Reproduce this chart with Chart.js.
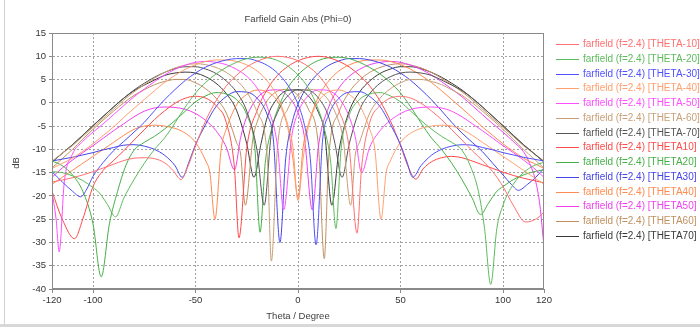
<!DOCTYPE html>
<html lang="en">
<head>
<meta charset="UTF-8">
<title>Farfield Gain Abs (Phi=0)</title>
<script src="https://cdn.jsdelivr.net/npm/chart.js"></script>
<style>
  html, body { margin: 0; padding: 0; background: #fff; }
  #wrap { position: relative; width: 700px; height: 327px; }
</style>
</head>
<body>
<div id="wrap"><canvas id="gain" width="700" height="327"></canvas></div>
<script>
// [theta (deg), gain (dB)], one array per curve
const thetaM10 = [[-120,-17],[-115,-16.6],[-110,-16.1],[-105,-15.5],[-100,-14.8],[-95,-14],[-90,-13.2],[-85,-12.4],[-80,-11.9],[-75,-11.8],[-70,-12],[-65,-12.9],[-61,-14.5],[-57,-16.5],[-54,-14],[-50,-9.3],[-45,-3.8],[-40,0.4],[-35,3.6],[-30,5.9],[-25,7.7],[-20,8.9],[-15,9.7],[-10,10],[-5,9.75],[0,9.05],[5,7.8],[10,5.9],[15,2.9],[20,-1.7],[25,-9.8],[28.8,-28],[31,-14],[35,-4.2],[40,-0.6],[45,1],[50,1.4],[55,1],[60,-0.1],[65,-1.7],[70,-3.6],[75,-5.8],[80,-8],[85,-10.3],[90,-12.4],[95,-14.8],[100,-18],[105,-22],[111,-25.6],[116,-25],[120,-23.5]];
const thetaM20 = [[-120,-14.8],[-115,-15],[-110,-15.7],[-105,-16.7],[-100,-18.2],[-97,-19.3],[-93,-21.8],[-89,-24.5],[-85,-20.5],[-80,-16.5],[-75,-13],[-70,-10],[-65,-7.5],[-60,-4.3],[-55,-0.9],[-50,2.1],[-45,4.4],[-40,6.2],[-35,7.6],[-30,8.7],[-25,9.5],[-20,9.8],[-15,9.7],[-10,9.1],[-5,7.9],[0,6],[5,3.2],[10,-1.5],[13,-5.8],[16,-13],[18.5,-27],[21,-10],[25,-2.6],[30,0.7],[35,1.9],[40,2.2],[45,1.5],[50,0.2],[55,-1.8],[60,-3.8],[65,-5.6],[70,-7.2],[75,-8.5],[80,-10.2],[84,-13.5],[88,-19],[91,-27],[94,-39],[97,-27],[100,-22],[105,-17.5],[110,-15],[115,-13.5],[120,-12.8]];
const thetaM30 = [[-120,-14.8],[-115,-17],[-110,-19],[-106,-20.2],[-103,-18.5],[-100,-15.8],[-95,-12.8],[-90,-10.3],[-85,-8.3],[-80,-6.3],[-75,-4.2],[-70,-1.7],[-65,0.7],[-60,2.85],[-55,4.8],[-50,6.4],[-45,7.7],[-40,8.6],[-35,9.2],[-30,9.5],[-25,9.5],[-20,9],[-15,8.05],[-10,6.4],[-5,3.8],[0,-0.3],[3,-4.5],[6,-12],[8.8,-30.5],[12,-8],[15,-2.6],[20,1],[25,2.3],[30,2.4],[35,1.35],[40,-0.8],[45,-4.6],[50,-9],[53,-12.5],[56,-16],[60,-13.5],[65,-11.3],[70,-10],[75,-9.3],[80,-9],[85,-9.1],[90,-9.6],[95,-10.1],[100,-10.7],[105,-11.2],[110,-11.7],[115,-12.1],[120,-12.5]];
const thetaM40 = [[-120,-14.1],[-115,-13],[-110,-11.9],[-105,-10.4],[-100,-8.8],[-95,-7],[-90,-5.2],[-85,-3.15],[-80,-1.2],[-75,0.7],[-70,2.6],[-65,4.4],[-60,5.9],[-55,7.2],[-50,8.2],[-45,8.9],[-40,9.2],[-35,9.2],[-30,8.9],[-25,8.15],[-20,6.85],[-15,4.7],[-10,1.3],[-5,-4.7],[-2.5,-9.5],[0,-21],[2.5,-12],[5,-5.3],[10,0.3],[15,2.35],[20,2.75],[25,1.8],[30,-0.5],[35,-5.7],[37.5,-10],[40.5,-25],[43,-15],[45,-12.5],[50,-8.5],[55,-6.5],[60,-5.5],[65,-5],[70,-4.8],[75,-5],[80,-5.7],[85,-7],[90,-8.5],[95,-10],[100,-11.5],[105,-13],[110,-14.5],[115,-16],[120,-17.5]];
const thetaM50 = [[-120,-19],[-118,-25],[-116.5,-32],[-114,-17],[-110,-11],[-105,-8.3],[-100,-6.3],[-95,-4.5],[-90,-2.55],[-85,-0.6],[-80,1.3],[-75,2.96],[-70,4.55],[-65,6],[-60,7.2],[-55,8.1],[-50,8.7],[-45,8.9],[-40,8.7],[-35,8.2],[-30,7.2],[-25,5.7],[-20,3.2],[-15,-0.9],[-10,-9.3],[-7,-23],[-3,-7],[0,-2.1],[5,1.5],[10,2.8],[15,2.6],[20,1],[25,-3],[28,-7.5],[31,-15],[35,-9.5],[40,-6],[45,-3.8],[50,-2.3],[55,-1.4],[60,-1],[65,-0.9],[70,-1.1],[75,-1.8],[80,-3],[85,-4.5],[90,-6],[95,-7.6],[100,-9.2],[105,-10.7],[110,-12.3],[115,-14],[120,-16]];
const thetaM60 = [[-120,-12.5],[-115,-10.85],[-110,-9.2],[-105,-7.2],[-100,-5.25],[-95,-3.33],[-90,-1.36],[-85,0.6],[-80,2.35],[-75,3.9],[-70,5.3],[-65,6.55],[-60,7.5],[-55,8.1],[-50,8.4],[-45,8.2],[-40,7.6],[-35,6.55],[-30,4.85],[-25,2.3],[-20,-2],[-15,-11.6],[-13,-34],[-10,-9.5],[-5,-1.3],[0,1.6],[5,2.9],[10,2.5],[15,0.5],[20,-4.2],[22,-7.7],[25.7,-22],[28,-11],[30,-8.5],[35,-2.2],[40,1],[45,3],[50,4.3],[55,5],[60,5],[65,4.6],[70,3.9],[75,2.8],[80,1.6],[85,0],[90,-1.8],[95,-3.7],[100,-5.7],[105,-7.8],[110,-10],[115,-12],[120,-14]];
const thetaM70 = [[-120,-12.7],[-115,-10.85],[-110,-9],[-105,-6.95],[-100,-4.9],[-95,-2.9],[-90,-0.9],[-85,1],[-80,2.75],[-75,4.2],[-70,5.5],[-65,6.55],[-60,7.35],[-55,7.75],[-50,7.75],[-45,7.25],[-40,6.3],[-35,4.7],[-30,2.3],[-25,-1.8],[-20,-10.2],[-16.5,-22],[-13,-6.5],[-10,-2.1],[-5,1.5],[0,2.8],[5,2.7],[10,1],[15,-3.1],[18,-8.7],[21.5,-16],[25,-8.8],[30,-1.6],[35,2],[40,4.2],[45,5.6],[50,6.4],[55,6.6],[60,6.4],[65,5.9],[70,4.9],[75,3.8],[80,2.6],[85,1],[90,-0.9],[95,-2.9],[100,-4.9],[105,-7],[110,-9],[115,-10.85],[120,-12.7]];
const thetaP10 = [[-120,-19],[-115,-25],[-109,-29.2],[-105,-25],[-100,-18],[-95,-14.5],[-90,-12.4],[-85,-10.3],[-80,-8],[-75,-5.8],[-70,-3.6],[-65,-1.7],[-60,-0.1],[-55,1],[-50,1.4],[-45,1],[-40,-0.6],[-35,-4.2],[-31,-14],[-28.8,-29],[-25,-9.8],[-20,-1.7],[-15,2.9],[-10,5.9],[-5,7.8],[0,9.05],[5,9.75],[10,10],[15,9.7],[20,8.9],[25,7.7],[30,5.9],[35,3.6],[40,0.4],[45,-3.8],[50,-9.2],[54,-14],[57.5,-16.4],[61,-14.2],[65,-12.7],[70,-11.8],[75,-11.5],[80,-11.8],[85,-12.5],[90,-13.3],[95,-14.1],[100,-14.9],[105,-15.6],[110,-16.2],[115,-16.7],[120,-17.2]];
const thetaP20 = [[-120,-12.5],[-115,-13.5],[-110,-15.5],[-105,-19],[-100,-26],[-96,-37.4],[-92,-26],[-88,-19],[-84,-13.5],[-80,-10.2],[-75,-8.5],[-70,-7.2],[-65,-5.6],[-60,-3.8],[-55,-1.8],[-50,0.2],[-45,1.5],[-40,2.2],[-35,1.9],[-30,0.7],[-25,-2.6],[-21,-10],[-18.5,-27.8],[-16,-13],[-13,-5.8],[-10,-1.5],[-5,3.2],[0,6],[5,7.9],[10,9.1],[15,9.7],[20,9.8],[25,9.5],[30,8.7],[35,7.6],[40,6.2],[45,4.4],[50,2.1],[55,-0.9],[60,-4.3],[65,-7.5],[70,-10],[75,-13],[80,-16.5],[85,-20.5],[89,-24],[93,-21.5],[97,-19],[100,-18],[105,-16.5],[110,-15.5],[115,-14.8],[120,-14.4]];
const thetaP30 = [[-120,-12.5],[-115,-12.1],[-110,-11.7],[-105,-11.2],[-100,-10.7],[-95,-10.1],[-90,-9.6],[-85,-9.1],[-80,-9],[-75,-9.3],[-70,-10],[-65,-11.3],[-60,-13.5],[-56.5,-16],[-53,-12.5],[-50,-9],[-45,-4.6],[-40,-0.8],[-35,1.35],[-30,2.4],[-25,2.3],[-20,1],[-15,-2.6],[-12,-8],[-8.8,-30],[-6,-12],[-3,-4.5],[0,-0.3],[5,3.8],[10,6.4],[15,8.05],[20,9],[25,9.5],[30,9.5],[35,9.2],[40,8.6],[45,7.7],[50,6.4],[55,4.8],[60,2.85],[65,0.7],[70,-1.7],[75,-4.2],[80,-6.5],[85,-8.5],[90,-10.5],[95,-13],[100,-15.5],[104,-17.5],[107.5,-18.8],[112,-17.5],[116,-16],[120,-14]];
const thetaP40 = [[-120,-17.5],[-115,-16],[-110,-14.5],[-105,-13],[-100,-11.5],[-95,-10],[-90,-8.5],[-85,-7],[-80,-5.7],[-75,-5],[-70,-4.8],[-65,-5],[-60,-5.5],[-55,-6.5],[-50,-8.5],[-45,-12.5],[-43,-15],[-40.5,-25],[-37.5,-10],[-35,-5.7],[-30,-0.5],[-25,1.8],[-20,2.75],[-15,2.35],[-10,0.3],[-5,-5.3],[-2.5,-12],[0,-20.5],[2.5,-9.5],[5,-4.7],[10,1.3],[15,4.7],[20,6.85],[25,8.15],[30,8.9],[35,9.2],[40,9.2],[45,8.9],[50,8.2],[55,7.2],[60,5.9],[65,4.4],[70,2.6],[75,0.7],[80,-1.2],[85,-3.15],[90,-5.2],[95,-7],[100,-8.8],[105,-10.4],[110,-11.9],[115,-13],[120,-14.1]];
const thetaP50 = [[-120,-16],[-115,-14],[-110,-12.3],[-105,-10.7],[-100,-9.2],[-95,-7.6],[-90,-6],[-85,-4.5],[-80,-3],[-75,-1.8],[-70,-1.1],[-65,-0.9],[-60,-1],[-55,-1.4],[-50,-2.3],[-45,-3.8],[-40,-6],[-35,-9.5],[-31,-14.4],[-28,-7.5],[-25,-3],[-20,1],[-15,2.6],[-10,2.8],[-5,1.5],[0,-2.1],[3,-7],[7,-23],[10,-9.3],[15,-0.9],[20,3.2],[25,5.7],[30,7.2],[35,8.2],[40,8.7],[45,8.9],[50,8.7],[55,8.1],[60,7.2],[65,6],[70,4.55],[75,2.96],[80,1.3],[85,-0.6],[90,-2.55],[95,-4.5],[100,-6.3],[105,-8.3],[110,-10.5],[113,-13],[116,-17],[118,-22],[120,-31]];
const thetaP60 = [[-120,-14],[-115,-12],[-110,-10],[-105,-7.8],[-100,-5.7],[-95,-3.7],[-90,-1.8],[-85,0],[-80,1.6],[-75,2.8],[-70,3.9],[-65,4.6],[-60,5],[-55,5],[-50,4.3],[-45,3],[-40,1],[-35,-2.2],[-30,-8.5],[-28,-11],[-25.7,-22],[-22,-7.7],[-20,-4.2],[-15,0.5],[-10,2.5],[-5,2.9],[0,1.6],[5,-1.3],[10,-9.5],[12.8,-33.5],[15,-11.6],[20,-2],[25,2.3],[30,4.85],[35,6.55],[40,7.6],[45,8.2],[50,8.4],[55,8.1],[60,7.5],[65,6.55],[70,5.3],[75,3.9],[80,2.35],[85,0.6],[90,-1.36],[95,-3.33],[100,-5.25],[105,-7.2],[110,-9.2],[115,-10.85],[120,-12.5]];
const thetaP70 = [[-120,-12.7],[-115,-10.85],[-110,-9],[-105,-7],[-100,-4.9],[-95,-2.9],[-90,-0.9],[-85,1],[-80,2.6],[-75,3.8],[-70,4.9],[-65,5.9],[-60,6.4],[-55,6.6],[-50,6.4],[-45,5.6],[-40,4.2],[-35,2],[-30,-1.6],[-25,-8.8],[-21.5,-16],[-18,-8.7],[-15,-3.1],[-10,1],[-5,2.7],[0,2.8],[5,1.5],[10,-2.1],[13,-6.5],[16.5,-22],[20,-10.2],[25,-1.8],[30,2.3],[35,4.7],[40,6.3],[45,7.25],[50,7.75],[55,7.75],[60,7.35],[65,6.55],[70,5.5],[75,4.2],[80,2.75],[85,1],[90,-0.9],[95,-2.9],[100,-4.9],[105,-6.95],[110,-9],[115,-10.85],[120,-12.7]];

const seriesLabels = [
  'farfield (f=2.4) [THETA-10]', 'farfield (f=2.4) [THETA-20]', 'farfield (f=2.4) [THETA-30]',
  'farfield (f=2.4) [THETA-40]', 'farfield (f=2.4) [THETA-50]', 'farfield (f=2.4) [THETA-60]',
  'farfield (f=2.4) [THETA-70]', 'farfield (f=2.4) [THETA10]', 'farfield (f=2.4) [THETA20]',
  'farfield (f=2.4) [THETA30]', 'farfield (f=2.4) [THETA40]', 'farfield (f=2.4) [THETA50]',
  'farfield (f=2.4) [THETA60]', 'farfield (f=2.4) [THETA70]'
];
const lineColors = [
  '#ff7070', '#5cbc5c', '#5050ff', '#ffa070', '#ff4dff', '#c8a078', '#555555',
  '#ff4a4a', '#46b046', '#4545e8', '#ff8a50', '#f040f0', '#bf9060', '#3a3a3a'
];
const xTicks = [-120, -100, -50, 0, 50, 100, 120];
const yTicks = [-40, -35, -30, -25, -20, -15, -10, -5, 0, 5, 10, 15];

const series = [thetaM10, thetaM20, thetaM30, thetaM40, thetaM50, thetaM60, thetaM70,
                thetaP10, thetaP20, thetaP30, thetaP40, thetaP50, thetaP60, thetaP70];

const FONT = '"Liberation Sans", Arial, sans-serif';
const tickFont = { family: FONT, size: 9.5 };

// title, axis titles, frame and legend
const decor = {
  id: 'decor',
  beforeDraw(chart) {
    const ctx = chart.ctx;
    ctx.save();
    ctx.fillStyle = '#fff';
    ctx.fillRect(0, 0, chart.width, chart.height);
    ctx.fillStyle = '#d8d8d8';
    ctx.fillRect(0, 324, chart.width, 3);
    ctx.fillStyle = '#d0d0d0';
    ctx.fillRect(4, 0, 1, 324);
    ctx.restore();
  },
  afterDraw(chart) {
    const { ctx, chartArea: a } = chart;
    ctx.save();
    ctx.strokeStyle = '#8a8a8a';
    ctx.lineWidth = 1;
    ctx.strokeRect(a.left + 0.5, a.top + 0.5, a.right - a.left - 1, a.bottom - a.top - 1);

    ctx.fillStyle = '#404040';
    ctx.font = '9.5px ' + FONT;
    ctx.textAlign = 'center';
    ctx.textBaseline = 'middle';
    ctx.fillText('Farfield Gain Abs (Phi=0)', (a.left + a.right) / 2, 19);
    ctx.fillText('Theta / Degree', (a.left + a.right) / 2, 316);
    ctx.save();
    ctx.translate(16, 163);
    ctx.rotate(-Math.PI / 2);
    ctx.fillText('dB', 0, 0);
    ctx.restore();

    ctx.textAlign = 'left';
    ctx.font = '10px ' + FONT;
    seriesLabels.forEach((lab, i) => {
      const y = Math.round(44 + i * 14.75) + 0.5;
      ctx.strokeStyle = lineColors[i];
      ctx.beginPath();
      ctx.moveTo(556, y);
      ctx.lineTo(579, y);
      ctx.stroke();
      ctx.fillStyle = lineColors[i];
      ctx.fillText(lab, 583, y);
    });
    ctx.restore();
  }
};

new Chart(document.getElementById('gain'), {
  type: 'line',
  data: {
    datasets: series.map((s, i) => ({
      label: seriesLabels[i],
      data: s.map(p => ({ x: p[0], y: p[1] })),
      borderColor: lineColors[i],
      borderWidth: 1,
      pointRadius: 0,
      cubicInterpolationMode: 'monotone',
      fill: false
    }))
  },
  options: {
    responsive: false,
    animation: false,
    devicePixelRatio: 1,
    layout: { padding: { top: 33, right: 156, bottom: 0, left: 0 } },
    plugins: { legend: { display: false }, title: { display: false }, tooltip: { enabled: false } },
    scales: {
      x: {
        type: 'linear',
        min: -120,
        max: 120,
        afterBuildTicks(scale) { scale.ticks = xTicks.map(v => ({ value: v })); },
        afterFit(scale) { scale.height = 38; },
        grid: {
          color: c => (c.tick && Math.abs(c.tick.value) === 120) ? 'rgba(0,0,0,0)' : '#a0a0a0',
          tickColor: '#8a8a8a',
          tickLength: 4
        },
        border: { display: true, color: '#8a8a8a', dash: [2, 2] },
        ticks: { font: tickFont, color: '#333', padding: 2, maxRotation: 0, autoSkip: false }
      },
      y: {
        type: 'linear',
        min: -40,
        max: 15,
        afterBuildTicks(scale) { scale.ticks = yTicks.map(v => ({ value: v })); },
        afterFit(scale) { scale.width = 52; },
        grid: {
          color: c => (c.tick && (c.tick.value === 15 || c.tick.value === -40)) ? 'rgba(0,0,0,0)' : '#a0a0a0',
          tickColor: '#8a8a8a',
          tickLength: 3
        },
        border: { display: true, color: '#8a8a8a', dash: [2, 2] },
        ticks: { font: tickFont, color: '#333', padding: 3, autoSkip: false }
      }
    }
  },
  plugins: [decor]
});
</script>
</body>
</html>
